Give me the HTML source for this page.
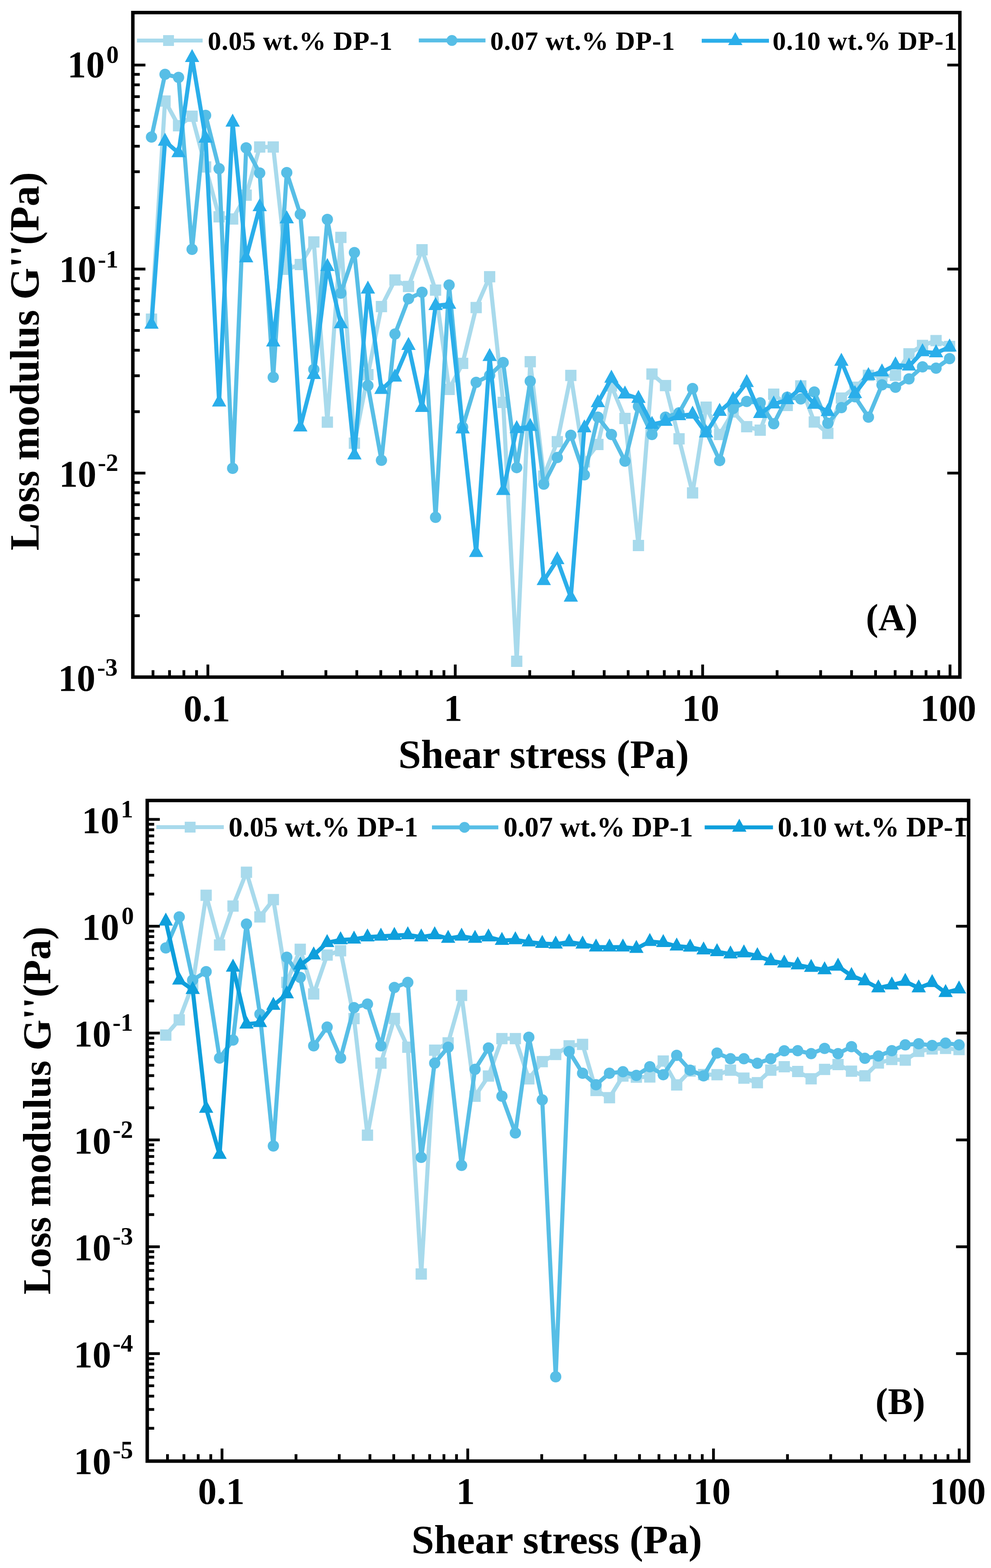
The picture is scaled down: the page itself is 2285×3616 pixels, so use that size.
<!DOCTYPE html><html><head><meta charset="utf-8"><style>html,body{margin:0;padding:0;background:#fff}svg{display:block}</style></head><body><svg width="2285" height="3616" viewBox="0 0 2285 3616" font-family="Liberation Serif, Times New Roman, serif" font-weight="bold">
<rect width="2285" height="3616" fill="#fff"/>
<defs><clipPath id="cA"><rect x="310" y="33" width="1899" height="1524"/></clipPath><clipPath id="cB"><rect x="343.5" y="1850" width="1886" height="1515"/></clipPath></defs>
<g clip-path="url(#cA)"><polyline points="349.3,736.0 380.5,233.0 411.7,290.0 442.9,268.0 474.1,385.0 505.2,500.0 536.4,505.0 567.6,450.0 598.8,339.0 630.0,339.0 661.2,621.0 692.4,610.0 723.6,558.0 754.8,973.5 786.0,547.5 817.2,1022.0 848.3,864.0 879.5,707.0 910.7,645.7 941.9,660.6 973.1,576.0 1004.3,669.0 1035.5,898.0 1066.7,838.0 1097.9,709.3 1129.0,638.2 1160.2,928.0 1191.4,1525.0 1222.6,834.2 1253.8,1098.0 1285.0,1018.6 1316.2,865.8 1347.4,1065.0 1378.6,1025.0 1409.8,890.0 1441.0,965.0 1472.1,1258.0 1503.3,862.6 1534.5,889.2 1565.7,1012.0 1596.9,1136.7 1628.1,939.0 1659.3,1002.0 1690.5,950.0 1721.7,984.0 1752.8,992.0 1784.0,909.0 1815.2,935.0 1846.4,890.0 1877.6,973.2 1908.8,999.4 1940.0,918.0 1971.2,893.0 2002.4,865.6 2033.6,868.0 2064.8,865.6 2095.9,816.0 2127.1,796.6 2158.3,785.5 2189.5,799.0" fill="none" stroke="#A8DAEC" stroke-width="9.5" stroke-linejoin="miter" stroke-miterlimit="3"/>
<rect x="336.3" y="723.0" width="26.0" height="26.0" fill="#A8DAEC"/>
<rect x="367.5" y="220.0" width="26.0" height="26.0" fill="#A8DAEC"/>
<rect x="398.7" y="277.0" width="26.0" height="26.0" fill="#A8DAEC"/>
<rect x="429.9" y="255.0" width="26.0" height="26.0" fill="#A8DAEC"/>
<rect x="461.1" y="372.0" width="26.0" height="26.0" fill="#A8DAEC"/>
<rect x="492.2" y="487.0" width="26.0" height="26.0" fill="#A8DAEC"/>
<rect x="523.4" y="492.0" width="26.0" height="26.0" fill="#A8DAEC"/>
<rect x="554.6" y="437.0" width="26.0" height="26.0" fill="#A8DAEC"/>
<rect x="585.8" y="326.0" width="26.0" height="26.0" fill="#A8DAEC"/>
<rect x="617.0" y="326.0" width="26.0" height="26.0" fill="#A8DAEC"/>
<rect x="648.2" y="608.0" width="26.0" height="26.0" fill="#A8DAEC"/>
<rect x="679.4" y="597.0" width="26.0" height="26.0" fill="#A8DAEC"/>
<rect x="710.6" y="545.0" width="26.0" height="26.0" fill="#A8DAEC"/>
<rect x="741.8" y="960.5" width="26.0" height="26.0" fill="#A8DAEC"/>
<rect x="773.0" y="534.5" width="26.0" height="26.0" fill="#A8DAEC"/>
<rect x="804.2" y="1009.0" width="26.0" height="26.0" fill="#A8DAEC"/>
<rect x="835.3" y="851.0" width="26.0" height="26.0" fill="#A8DAEC"/>
<rect x="866.5" y="694.0" width="26.0" height="26.0" fill="#A8DAEC"/>
<rect x="897.7" y="632.7" width="26.0" height="26.0" fill="#A8DAEC"/>
<rect x="928.9" y="647.6" width="26.0" height="26.0" fill="#A8DAEC"/>
<rect x="960.1" y="563.0" width="26.0" height="26.0" fill="#A8DAEC"/>
<rect x="991.3" y="656.0" width="26.0" height="26.0" fill="#A8DAEC"/>
<rect x="1022.5" y="885.0" width="26.0" height="26.0" fill="#A8DAEC"/>
<rect x="1053.7" y="825.0" width="26.0" height="26.0" fill="#A8DAEC"/>
<rect x="1084.9" y="696.3" width="26.0" height="26.0" fill="#A8DAEC"/>
<rect x="1116.0" y="625.2" width="26.0" height="26.0" fill="#A8DAEC"/>
<rect x="1147.2" y="915.0" width="26.0" height="26.0" fill="#A8DAEC"/>
<rect x="1178.4" y="1512.0" width="26.0" height="26.0" fill="#A8DAEC"/>
<rect x="1209.6" y="821.2" width="26.0" height="26.0" fill="#A8DAEC"/>
<rect x="1240.8" y="1085.0" width="26.0" height="26.0" fill="#A8DAEC"/>
<rect x="1272.0" y="1005.6" width="26.0" height="26.0" fill="#A8DAEC"/>
<rect x="1303.2" y="852.8" width="26.0" height="26.0" fill="#A8DAEC"/>
<rect x="1334.4" y="1052.0" width="26.0" height="26.0" fill="#A8DAEC"/>
<rect x="1365.6" y="1012.0" width="26.0" height="26.0" fill="#A8DAEC"/>
<rect x="1396.8" y="877.0" width="26.0" height="26.0" fill="#A8DAEC"/>
<rect x="1428.0" y="952.0" width="26.0" height="26.0" fill="#A8DAEC"/>
<rect x="1459.1" y="1245.0" width="26.0" height="26.0" fill="#A8DAEC"/>
<rect x="1490.3" y="849.6" width="26.0" height="26.0" fill="#A8DAEC"/>
<rect x="1521.5" y="876.2" width="26.0" height="26.0" fill="#A8DAEC"/>
<rect x="1552.7" y="999.0" width="26.0" height="26.0" fill="#A8DAEC"/>
<rect x="1583.9" y="1123.7" width="26.0" height="26.0" fill="#A8DAEC"/>
<rect x="1615.1" y="926.0" width="26.0" height="26.0" fill="#A8DAEC"/>
<rect x="1646.3" y="989.0" width="26.0" height="26.0" fill="#A8DAEC"/>
<rect x="1677.5" y="937.0" width="26.0" height="26.0" fill="#A8DAEC"/>
<rect x="1708.7" y="971.0" width="26.0" height="26.0" fill="#A8DAEC"/>
<rect x="1739.8" y="979.0" width="26.0" height="26.0" fill="#A8DAEC"/>
<rect x="1771.0" y="896.0" width="26.0" height="26.0" fill="#A8DAEC"/>
<rect x="1802.2" y="922.0" width="26.0" height="26.0" fill="#A8DAEC"/>
<rect x="1833.4" y="877.0" width="26.0" height="26.0" fill="#A8DAEC"/>
<rect x="1864.6" y="960.2" width="26.0" height="26.0" fill="#A8DAEC"/>
<rect x="1895.8" y="986.4" width="26.0" height="26.0" fill="#A8DAEC"/>
<rect x="1927.0" y="905.0" width="26.0" height="26.0" fill="#A8DAEC"/>
<rect x="1958.2" y="880.0" width="26.0" height="26.0" fill="#A8DAEC"/>
<rect x="1989.4" y="852.6" width="26.0" height="26.0" fill="#A8DAEC"/>
<rect x="2020.6" y="855.0" width="26.0" height="26.0" fill="#A8DAEC"/>
<rect x="2051.8" y="852.6" width="26.0" height="26.0" fill="#A8DAEC"/>
<rect x="2082.9" y="803.0" width="26.0" height="26.0" fill="#A8DAEC"/>
<rect x="2114.1" y="783.6" width="26.0" height="26.0" fill="#A8DAEC"/>
<rect x="2145.3" y="772.5" width="26.0" height="26.0" fill="#A8DAEC"/>
<rect x="2176.5" y="786.0" width="26.0" height="26.0" fill="#A8DAEC"/>
</g>
<g clip-path="url(#cA)"><polyline points="349.3,316.0 380.5,171.4 411.7,178.5 442.9,575.0 474.1,266.0 505.2,389.0 536.4,1080.0 567.6,341.0 598.8,399.0 630.0,870.0 661.2,398.0 692.4,494.0 723.6,852.0 754.8,506.0 786.0,676.0 817.2,582.5 848.3,889.0 879.5,1061.5 910.7,770.3 941.9,688.9 973.1,674.0 1004.3,1193.0 1035.5,657.3 1066.7,985.0 1097.9,881.8 1129.0,865.8 1160.2,835.9 1191.4,1078.4 1222.6,879.0 1253.8,1116.6 1285.0,1055.1 1316.2,1003.7 1347.4,1095.0 1378.6,962.0 1409.8,1002.0 1441.0,1063.5 1472.1,937.0 1503.3,1002.0 1534.5,962.0 1565.7,952.0 1596.9,896.0 1628.1,995.0 1659.3,1062.0 1690.5,942.0 1721.7,925.7 1752.8,929.0 1784.0,977.2 1815.2,916.0 1846.4,920.0 1877.6,904.0 1908.8,976.0 1940.0,940.0 1971.2,915.0 2002.4,962.0 2033.6,887.6 2064.8,893.0 2095.9,873.8 2127.1,846.0 2158.3,849.0 2189.5,827.0" fill="none" stroke="#57BEE6" stroke-width="9.5" stroke-linejoin="miter" stroke-miterlimit="3"/>
<circle cx="349.3" cy="316.0" r="13.0" fill="#57BEE6"/>
<circle cx="380.5" cy="171.4" r="13.0" fill="#57BEE6"/>
<circle cx="411.7" cy="178.5" r="13.0" fill="#57BEE6"/>
<circle cx="442.9" cy="575.0" r="13.0" fill="#57BEE6"/>
<circle cx="474.1" cy="266.0" r="13.0" fill="#57BEE6"/>
<circle cx="505.2" cy="389.0" r="13.0" fill="#57BEE6"/>
<circle cx="536.4" cy="1080.0" r="13.0" fill="#57BEE6"/>
<circle cx="567.6" cy="341.0" r="13.0" fill="#57BEE6"/>
<circle cx="598.8" cy="399.0" r="13.0" fill="#57BEE6"/>
<circle cx="630.0" cy="870.0" r="13.0" fill="#57BEE6"/>
<circle cx="661.2" cy="398.0" r="13.0" fill="#57BEE6"/>
<circle cx="692.4" cy="494.0" r="13.0" fill="#57BEE6"/>
<circle cx="723.6" cy="852.0" r="13.0" fill="#57BEE6"/>
<circle cx="754.8" cy="506.0" r="13.0" fill="#57BEE6"/>
<circle cx="786.0" cy="676.0" r="13.0" fill="#57BEE6"/>
<circle cx="817.2" cy="582.5" r="13.0" fill="#57BEE6"/>
<circle cx="848.3" cy="889.0" r="13.0" fill="#57BEE6"/>
<circle cx="879.5" cy="1061.5" r="13.0" fill="#57BEE6"/>
<circle cx="910.7" cy="770.3" r="13.0" fill="#57BEE6"/>
<circle cx="941.9" cy="688.9" r="13.0" fill="#57BEE6"/>
<circle cx="973.1" cy="674.0" r="13.0" fill="#57BEE6"/>
<circle cx="1004.3" cy="1193.0" r="13.0" fill="#57BEE6"/>
<circle cx="1035.5" cy="657.3" r="13.0" fill="#57BEE6"/>
<circle cx="1066.7" cy="985.0" r="13.0" fill="#57BEE6"/>
<circle cx="1097.9" cy="881.8" r="13.0" fill="#57BEE6"/>
<circle cx="1129.0" cy="865.8" r="13.0" fill="#57BEE6"/>
<circle cx="1160.2" cy="835.9" r="13.0" fill="#57BEE6"/>
<circle cx="1191.4" cy="1078.4" r="13.0" fill="#57BEE6"/>
<circle cx="1222.6" cy="879.0" r="13.0" fill="#57BEE6"/>
<circle cx="1253.8" cy="1116.6" r="13.0" fill="#57BEE6"/>
<circle cx="1285.0" cy="1055.1" r="13.0" fill="#57BEE6"/>
<circle cx="1316.2" cy="1003.7" r="13.0" fill="#57BEE6"/>
<circle cx="1347.4" cy="1095.0" r="13.0" fill="#57BEE6"/>
<circle cx="1378.6" cy="962.0" r="13.0" fill="#57BEE6"/>
<circle cx="1409.8" cy="1002.0" r="13.0" fill="#57BEE6"/>
<circle cx="1441.0" cy="1063.5" r="13.0" fill="#57BEE6"/>
<circle cx="1472.1" cy="937.0" r="13.0" fill="#57BEE6"/>
<circle cx="1503.3" cy="1002.0" r="13.0" fill="#57BEE6"/>
<circle cx="1534.5" cy="962.0" r="13.0" fill="#57BEE6"/>
<circle cx="1565.7" cy="952.0" r="13.0" fill="#57BEE6"/>
<circle cx="1596.9" cy="896.0" r="13.0" fill="#57BEE6"/>
<circle cx="1628.1" cy="995.0" r="13.0" fill="#57BEE6"/>
<circle cx="1659.3" cy="1062.0" r="13.0" fill="#57BEE6"/>
<circle cx="1690.5" cy="942.0" r="13.0" fill="#57BEE6"/>
<circle cx="1721.7" cy="925.7" r="13.0" fill="#57BEE6"/>
<circle cx="1752.8" cy="929.0" r="13.0" fill="#57BEE6"/>
<circle cx="1784.0" cy="977.2" r="13.0" fill="#57BEE6"/>
<circle cx="1815.2" cy="916.0" r="13.0" fill="#57BEE6"/>
<circle cx="1846.4" cy="920.0" r="13.0" fill="#57BEE6"/>
<circle cx="1877.6" cy="904.0" r="13.0" fill="#57BEE6"/>
<circle cx="1908.8" cy="976.0" r="13.0" fill="#57BEE6"/>
<circle cx="1940.0" cy="940.0" r="13.0" fill="#57BEE6"/>
<circle cx="1971.2" cy="915.0" r="13.0" fill="#57BEE6"/>
<circle cx="2002.4" cy="962.0" r="13.0" fill="#57BEE6"/>
<circle cx="2033.6" cy="887.6" r="13.0" fill="#57BEE6"/>
<circle cx="2064.8" cy="893.0" r="13.0" fill="#57BEE6"/>
<circle cx="2095.9" cy="873.8" r="13.0" fill="#57BEE6"/>
<circle cx="2127.1" cy="846.0" r="13.0" fill="#57BEE6"/>
<circle cx="2158.3" cy="849.0" r="13.0" fill="#57BEE6"/>
<circle cx="2189.5" cy="827.0" r="13.0" fill="#57BEE6"/>
</g>
<g clip-path="url(#cA)"><polyline points="349.3,748.0 380.5,326.0 411.7,352.5 442.9,133.0 474.1,319.0 505.2,927.5 536.4,282.0 567.6,595.0 598.8,477.0 630.0,789.0 661.2,505.0 692.4,985.0 723.6,864.0 754.8,615.0 786.0,747.0 817.2,1049.5 848.3,667.0 879.5,898.5 910.7,870.0 941.9,797.0 973.1,940.0 1004.3,705.0 1035.5,702.0 1066.7,989.5 1097.9,1274.4 1129.0,822.6 1160.2,1131.5 1191.4,988.7 1222.6,983.7 1253.8,1339.2 1285.0,1291.0 1316.2,1377.4 1347.4,987.0 1378.6,929.0 1409.8,872.4 1441.0,909.0 1472.1,919.0 1503.3,979.0 1534.5,972.0 1565.7,959.0 1596.9,955.6 1628.1,998.8 1659.3,949.0 1690.5,922.0 1721.7,882.5 1752.8,954.0 1784.0,932.0 1815.2,922.0 1846.4,895.0 1877.6,932.8 1908.8,949.4 1940.0,833.5 1971.2,908.0 2002.4,866.6 2033.6,858.0 2064.8,841.8 2095.9,844.5 2127.1,811.4 2158.3,814.0 2189.5,800.4" fill="none" stroke="#2AAEEA" stroke-width="9.5" stroke-linejoin="miter" stroke-miterlimit="3"/>
<polygon points="349.3,728.0 365.8,758.0 332.8,758.0" fill="#2AAEEA"/>
<polygon points="380.5,306.0 397.0,336.0 364.0,336.0" fill="#2AAEEA"/>
<polygon points="411.7,332.5 428.2,362.5 395.2,362.5" fill="#2AAEEA"/>
<polygon points="442.9,113.0 459.4,143.0 426.4,143.0" fill="#2AAEEA"/>
<polygon points="474.1,299.0 490.6,329.0 457.6,329.0" fill="#2AAEEA"/>
<polygon points="505.2,907.5 521.8,937.5 488.8,937.5" fill="#2AAEEA"/>
<polygon points="536.4,262.0 552.9,292.0 519.9,292.0" fill="#2AAEEA"/>
<polygon points="567.6,575.0 584.1,605.0 551.1,605.0" fill="#2AAEEA"/>
<polygon points="598.8,457.0 615.3,487.0 582.3,487.0" fill="#2AAEEA"/>
<polygon points="630.0,769.0 646.5,799.0 613.5,799.0" fill="#2AAEEA"/>
<polygon points="661.2,485.0 677.7,515.0 644.7,515.0" fill="#2AAEEA"/>
<polygon points="692.4,965.0 708.9,995.0 675.9,995.0" fill="#2AAEEA"/>
<polygon points="723.6,844.0 740.1,874.0 707.1,874.0" fill="#2AAEEA"/>
<polygon points="754.8,595.0 771.3,625.0 738.3,625.0" fill="#2AAEEA"/>
<polygon points="786.0,727.0 802.5,757.0 769.5,757.0" fill="#2AAEEA"/>
<polygon points="817.2,1029.5 833.7,1059.5 800.7,1059.5" fill="#2AAEEA"/>
<polygon points="848.3,647.0 864.8,677.0 831.8,677.0" fill="#2AAEEA"/>
<polygon points="879.5,878.5 896.0,908.5 863.0,908.5" fill="#2AAEEA"/>
<polygon points="910.7,850.0 927.2,880.0 894.2,880.0" fill="#2AAEEA"/>
<polygon points="941.9,777.0 958.4,807.0 925.4,807.0" fill="#2AAEEA"/>
<polygon points="973.1,920.0 989.6,950.0 956.6,950.0" fill="#2AAEEA"/>
<polygon points="1004.3,685.0 1020.8,715.0 987.8,715.0" fill="#2AAEEA"/>
<polygon points="1035.5,682.0 1052.0,712.0 1019.0,712.0" fill="#2AAEEA"/>
<polygon points="1066.7,969.5 1083.2,999.5 1050.2,999.5" fill="#2AAEEA"/>
<polygon points="1097.9,1254.4 1114.4,1284.4 1081.4,1284.4" fill="#2AAEEA"/>
<polygon points="1129.0,802.6 1145.5,832.6 1112.5,832.6" fill="#2AAEEA"/>
<polygon points="1160.2,1111.5 1176.7,1141.5 1143.7,1141.5" fill="#2AAEEA"/>
<polygon points="1191.4,968.7 1207.9,998.7 1174.9,998.7" fill="#2AAEEA"/>
<polygon points="1222.6,963.7 1239.1,993.7 1206.1,993.7" fill="#2AAEEA"/>
<polygon points="1253.8,1319.2 1270.3,1349.2 1237.3,1349.2" fill="#2AAEEA"/>
<polygon points="1285.0,1271.0 1301.5,1301.0 1268.5,1301.0" fill="#2AAEEA"/>
<polygon points="1316.2,1357.4 1332.7,1387.4 1299.7,1387.4" fill="#2AAEEA"/>
<polygon points="1347.4,967.0 1363.9,997.0 1330.9,997.0" fill="#2AAEEA"/>
<polygon points="1378.6,909.0 1395.1,939.0 1362.1,939.0" fill="#2AAEEA"/>
<polygon points="1409.8,852.4 1426.3,882.4 1393.3,882.4" fill="#2AAEEA"/>
<polygon points="1441.0,889.0 1457.5,919.0 1424.5,919.0" fill="#2AAEEA"/>
<polygon points="1472.1,899.0 1488.6,929.0 1455.6,929.0" fill="#2AAEEA"/>
<polygon points="1503.3,959.0 1519.8,989.0 1486.8,989.0" fill="#2AAEEA"/>
<polygon points="1534.5,952.0 1551.0,982.0 1518.0,982.0" fill="#2AAEEA"/>
<polygon points="1565.7,939.0 1582.2,969.0 1549.2,969.0" fill="#2AAEEA"/>
<polygon points="1596.9,935.6 1613.4,965.6 1580.4,965.6" fill="#2AAEEA"/>
<polygon points="1628.1,978.8 1644.6,1008.8 1611.6,1008.8" fill="#2AAEEA"/>
<polygon points="1659.3,929.0 1675.8,959.0 1642.8,959.0" fill="#2AAEEA"/>
<polygon points="1690.5,902.0 1707.0,932.0 1674.0,932.0" fill="#2AAEEA"/>
<polygon points="1721.7,862.5 1738.2,892.5 1705.2,892.5" fill="#2AAEEA"/>
<polygon points="1752.8,934.0 1769.3,964.0 1736.3,964.0" fill="#2AAEEA"/>
<polygon points="1784.0,912.0 1800.5,942.0 1767.5,942.0" fill="#2AAEEA"/>
<polygon points="1815.2,902.0 1831.7,932.0 1798.7,932.0" fill="#2AAEEA"/>
<polygon points="1846.4,875.0 1862.9,905.0 1829.9,905.0" fill="#2AAEEA"/>
<polygon points="1877.6,912.8 1894.1,942.8 1861.1,942.8" fill="#2AAEEA"/>
<polygon points="1908.8,929.4 1925.3,959.4 1892.3,959.4" fill="#2AAEEA"/>
<polygon points="1940.0,813.5 1956.5,843.5 1923.5,843.5" fill="#2AAEEA"/>
<polygon points="1971.2,888.0 1987.7,918.0 1954.7,918.0" fill="#2AAEEA"/>
<polygon points="2002.4,846.6 2018.9,876.6 1985.9,876.6" fill="#2AAEEA"/>
<polygon points="2033.6,838.0 2050.1,868.0 2017.1,868.0" fill="#2AAEEA"/>
<polygon points="2064.8,821.8 2081.2,851.8 2048.2,851.8" fill="#2AAEEA"/>
<polygon points="2095.9,824.5 2112.4,854.5 2079.4,854.5" fill="#2AAEEA"/>
<polygon points="2127.1,791.4 2143.6,821.4 2110.6,821.4" fill="#2AAEEA"/>
<polygon points="2158.3,794.0 2174.8,824.0 2141.8,824.0" fill="#2AAEEA"/>
<polygon points="2189.5,780.4 2206.0,810.4 2173.0,810.4" fill="#2AAEEA"/>
</g>
<g clip-path="url(#cB)"><polyline points="382.3,2387.0 413.3,2352.0 444.3,2270.0 475.3,2064.6 506.3,2179.2 537.3,2089.5 568.3,2011.5 599.3,2114.5 630.3,2074.6 661.3,2265.6 692.3,2189.2 723.3,2292.2 754.3,2202.5 785.3,2192.5 816.3,2349.0 847.3,2617.8 878.3,2451.7 909.3,2348.7 940.3,2415.0 971.3,2938.0 1002.3,2421.8 1033.3,2405.0 1064.3,2295.5 1095.3,2528.0 1126.3,2481.5 1157.3,2395.2 1188.3,2395.2 1219.3,2488.0 1250.3,2448.3 1281.3,2431.7 1312.3,2411.8 1343.3,2408.5 1374.3,2514.8 1405.3,2531.4 1436.3,2481.5 1467.3,2484.0 1498.3,2483.6 1529.3,2446.9 1560.3,2502.0 1591.3,2470.0 1622.3,2478.0 1653.3,2478.4 1684.3,2467.9 1715.3,2486.3 1746.3,2496.8 1777.3,2467.9 1808.3,2460.0 1839.3,2471.0 1870.3,2487.8 1901.3,2466.2 1932.3,2455.0 1963.3,2470.3 1994.3,2481.0 2025.3,2451.4 2056.3,2443.3 2087.3,2444.7 2118.3,2424.5 2149.3,2419.0 2180.3,2417.7 2211.3,2420.4" fill="none" stroke="#A8DAEC" stroke-width="9.5" stroke-linejoin="miter" stroke-miterlimit="3"/>
<rect x="369.3" y="2374.0" width="26.0" height="26.0" fill="#A8DAEC"/>
<rect x="400.3" y="2339.0" width="26.0" height="26.0" fill="#A8DAEC"/>
<rect x="431.3" y="2257.0" width="26.0" height="26.0" fill="#A8DAEC"/>
<rect x="462.3" y="2051.6" width="26.0" height="26.0" fill="#A8DAEC"/>
<rect x="493.3" y="2166.2" width="26.0" height="26.0" fill="#A8DAEC"/>
<rect x="524.3" y="2076.5" width="26.0" height="26.0" fill="#A8DAEC"/>
<rect x="555.3" y="1998.5" width="26.0" height="26.0" fill="#A8DAEC"/>
<rect x="586.3" y="2101.5" width="26.0" height="26.0" fill="#A8DAEC"/>
<rect x="617.3" y="2061.6" width="26.0" height="26.0" fill="#A8DAEC"/>
<rect x="648.3" y="2252.6" width="26.0" height="26.0" fill="#A8DAEC"/>
<rect x="679.3" y="2176.2" width="26.0" height="26.0" fill="#A8DAEC"/>
<rect x="710.3" y="2279.2" width="26.0" height="26.0" fill="#A8DAEC"/>
<rect x="741.3" y="2189.5" width="26.0" height="26.0" fill="#A8DAEC"/>
<rect x="772.3" y="2179.5" width="26.0" height="26.0" fill="#A8DAEC"/>
<rect x="803.3" y="2336.0" width="26.0" height="26.0" fill="#A8DAEC"/>
<rect x="834.3" y="2604.8" width="26.0" height="26.0" fill="#A8DAEC"/>
<rect x="865.3" y="2438.7" width="26.0" height="26.0" fill="#A8DAEC"/>
<rect x="896.3" y="2335.7" width="26.0" height="26.0" fill="#A8DAEC"/>
<rect x="927.3" y="2402.0" width="26.0" height="26.0" fill="#A8DAEC"/>
<rect x="958.3" y="2925.0" width="26.0" height="26.0" fill="#A8DAEC"/>
<rect x="989.3" y="2408.8" width="26.0" height="26.0" fill="#A8DAEC"/>
<rect x="1020.3" y="2392.0" width="26.0" height="26.0" fill="#A8DAEC"/>
<rect x="1051.3" y="2282.5" width="26.0" height="26.0" fill="#A8DAEC"/>
<rect x="1082.3" y="2515.0" width="26.0" height="26.0" fill="#A8DAEC"/>
<rect x="1113.3" y="2468.5" width="26.0" height="26.0" fill="#A8DAEC"/>
<rect x="1144.3" y="2382.2" width="26.0" height="26.0" fill="#A8DAEC"/>
<rect x="1175.3" y="2382.2" width="26.0" height="26.0" fill="#A8DAEC"/>
<rect x="1206.3" y="2475.0" width="26.0" height="26.0" fill="#A8DAEC"/>
<rect x="1237.3" y="2435.3" width="26.0" height="26.0" fill="#A8DAEC"/>
<rect x="1268.3" y="2418.7" width="26.0" height="26.0" fill="#A8DAEC"/>
<rect x="1299.3" y="2398.8" width="26.0" height="26.0" fill="#A8DAEC"/>
<rect x="1330.3" y="2395.5" width="26.0" height="26.0" fill="#A8DAEC"/>
<rect x="1361.3" y="2501.8" width="26.0" height="26.0" fill="#A8DAEC"/>
<rect x="1392.3" y="2518.4" width="26.0" height="26.0" fill="#A8DAEC"/>
<rect x="1423.3" y="2468.5" width="26.0" height="26.0" fill="#A8DAEC"/>
<rect x="1454.3" y="2471.0" width="26.0" height="26.0" fill="#A8DAEC"/>
<rect x="1485.3" y="2470.6" width="26.0" height="26.0" fill="#A8DAEC"/>
<rect x="1516.3" y="2433.9" width="26.0" height="26.0" fill="#A8DAEC"/>
<rect x="1547.3" y="2489.0" width="26.0" height="26.0" fill="#A8DAEC"/>
<rect x="1578.3" y="2457.0" width="26.0" height="26.0" fill="#A8DAEC"/>
<rect x="1609.3" y="2465.0" width="26.0" height="26.0" fill="#A8DAEC"/>
<rect x="1640.3" y="2465.4" width="26.0" height="26.0" fill="#A8DAEC"/>
<rect x="1671.3" y="2454.9" width="26.0" height="26.0" fill="#A8DAEC"/>
<rect x="1702.3" y="2473.3" width="26.0" height="26.0" fill="#A8DAEC"/>
<rect x="1733.3" y="2483.8" width="26.0" height="26.0" fill="#A8DAEC"/>
<rect x="1764.3" y="2454.9" width="26.0" height="26.0" fill="#A8DAEC"/>
<rect x="1795.3" y="2447.0" width="26.0" height="26.0" fill="#A8DAEC"/>
<rect x="1826.3" y="2458.0" width="26.0" height="26.0" fill="#A8DAEC"/>
<rect x="1857.3" y="2474.8" width="26.0" height="26.0" fill="#A8DAEC"/>
<rect x="1888.3" y="2453.2" width="26.0" height="26.0" fill="#A8DAEC"/>
<rect x="1919.3" y="2442.0" width="26.0" height="26.0" fill="#A8DAEC"/>
<rect x="1950.3" y="2457.3" width="26.0" height="26.0" fill="#A8DAEC"/>
<rect x="1981.3" y="2468.0" width="26.0" height="26.0" fill="#A8DAEC"/>
<rect x="2012.3" y="2438.4" width="26.0" height="26.0" fill="#A8DAEC"/>
<rect x="2043.3" y="2430.3" width="26.0" height="26.0" fill="#A8DAEC"/>
<rect x="2074.3" y="2431.7" width="26.0" height="26.0" fill="#A8DAEC"/>
<rect x="2105.3" y="2411.5" width="26.0" height="26.0" fill="#A8DAEC"/>
<rect x="2136.3" y="2406.0" width="26.0" height="26.0" fill="#A8DAEC"/>
<rect x="2167.3" y="2404.7" width="26.0" height="26.0" fill="#A8DAEC"/>
<rect x="2198.3" y="2407.4" width="26.0" height="26.0" fill="#A8DAEC"/>
</g>
<g clip-path="url(#cB)"><polyline points="382.3,2186.0 413.3,2114.5 444.3,2260.0 475.3,2240.7 506.3,2440.0 537.3,2398.5 568.3,2131.0 599.3,2338.7 630.3,2642.7 661.3,2207.5 692.3,2254.0 723.3,2411.8 754.3,2368.6 785.3,2440.0 816.3,2323.8 847.3,2315.4 878.3,2411.8 909.3,2277.2 940.3,2265.6 971.3,2669.0 1002.3,2451.7 1033.3,2415.0 1064.3,2687.6 1095.3,2466.0 1126.3,2416.8 1157.3,2528.0 1188.3,2612.8 1219.3,2391.9 1250.3,2536.4 1281.3,3175.0 1312.3,2425.0 1343.3,2475.0 1374.3,2501.5 1405.3,2475.0 1436.3,2471.6 1467.3,2480.0 1498.3,2460.0 1529.3,2478.4 1560.3,2433.7 1591.3,2467.9 1622.3,2481.0 1653.3,2428.5 1684.3,2441.6 1715.3,2441.6 1746.3,2452.1 1777.3,2441.6 1808.3,2423.2 1839.3,2423.1 1870.3,2429.8 1901.3,2417.7 1932.3,2429.8 1963.3,2413.7 1994.3,2440.6 2025.3,2435.2 2056.3,2423.0 2087.3,2409.6 2118.3,2407.0 2149.3,2411.0 2180.3,2405.6 2211.3,2409.6" fill="none" stroke="#57BEE6" stroke-width="9.5" stroke-linejoin="miter" stroke-miterlimit="3"/>
<circle cx="382.3" cy="2186.0" r="13.0" fill="#57BEE6"/>
<circle cx="413.3" cy="2114.5" r="13.0" fill="#57BEE6"/>
<circle cx="444.3" cy="2260.0" r="13.0" fill="#57BEE6"/>
<circle cx="475.3" cy="2240.7" r="13.0" fill="#57BEE6"/>
<circle cx="506.3" cy="2440.0" r="13.0" fill="#57BEE6"/>
<circle cx="537.3" cy="2398.5" r="13.0" fill="#57BEE6"/>
<circle cx="568.3" cy="2131.0" r="13.0" fill="#57BEE6"/>
<circle cx="599.3" cy="2338.7" r="13.0" fill="#57BEE6"/>
<circle cx="630.3" cy="2642.7" r="13.0" fill="#57BEE6"/>
<circle cx="661.3" cy="2207.5" r="13.0" fill="#57BEE6"/>
<circle cx="692.3" cy="2254.0" r="13.0" fill="#57BEE6"/>
<circle cx="723.3" cy="2411.8" r="13.0" fill="#57BEE6"/>
<circle cx="754.3" cy="2368.6" r="13.0" fill="#57BEE6"/>
<circle cx="785.3" cy="2440.0" r="13.0" fill="#57BEE6"/>
<circle cx="816.3" cy="2323.8" r="13.0" fill="#57BEE6"/>
<circle cx="847.3" cy="2315.4" r="13.0" fill="#57BEE6"/>
<circle cx="878.3" cy="2411.8" r="13.0" fill="#57BEE6"/>
<circle cx="909.3" cy="2277.2" r="13.0" fill="#57BEE6"/>
<circle cx="940.3" cy="2265.6" r="13.0" fill="#57BEE6"/>
<circle cx="971.3" cy="2669.0" r="13.0" fill="#57BEE6"/>
<circle cx="1002.3" cy="2451.7" r="13.0" fill="#57BEE6"/>
<circle cx="1033.3" cy="2415.0" r="13.0" fill="#57BEE6"/>
<circle cx="1064.3" cy="2687.6" r="13.0" fill="#57BEE6"/>
<circle cx="1095.3" cy="2466.0" r="13.0" fill="#57BEE6"/>
<circle cx="1126.3" cy="2416.8" r="13.0" fill="#57BEE6"/>
<circle cx="1157.3" cy="2528.0" r="13.0" fill="#57BEE6"/>
<circle cx="1188.3" cy="2612.8" r="13.0" fill="#57BEE6"/>
<circle cx="1219.3" cy="2391.9" r="13.0" fill="#57BEE6"/>
<circle cx="1250.3" cy="2536.4" r="13.0" fill="#57BEE6"/>
<circle cx="1281.3" cy="3175.0" r="13.0" fill="#57BEE6"/>
<circle cx="1312.3" cy="2425.0" r="13.0" fill="#57BEE6"/>
<circle cx="1343.3" cy="2475.0" r="13.0" fill="#57BEE6"/>
<circle cx="1374.3" cy="2501.5" r="13.0" fill="#57BEE6"/>
<circle cx="1405.3" cy="2475.0" r="13.0" fill="#57BEE6"/>
<circle cx="1436.3" cy="2471.6" r="13.0" fill="#57BEE6"/>
<circle cx="1467.3" cy="2480.0" r="13.0" fill="#57BEE6"/>
<circle cx="1498.3" cy="2460.0" r="13.0" fill="#57BEE6"/>
<circle cx="1529.3" cy="2478.4" r="13.0" fill="#57BEE6"/>
<circle cx="1560.3" cy="2433.7" r="13.0" fill="#57BEE6"/>
<circle cx="1591.3" cy="2467.9" r="13.0" fill="#57BEE6"/>
<circle cx="1622.3" cy="2481.0" r="13.0" fill="#57BEE6"/>
<circle cx="1653.3" cy="2428.5" r="13.0" fill="#57BEE6"/>
<circle cx="1684.3" cy="2441.6" r="13.0" fill="#57BEE6"/>
<circle cx="1715.3" cy="2441.6" r="13.0" fill="#57BEE6"/>
<circle cx="1746.3" cy="2452.1" r="13.0" fill="#57BEE6"/>
<circle cx="1777.3" cy="2441.6" r="13.0" fill="#57BEE6"/>
<circle cx="1808.3" cy="2423.2" r="13.0" fill="#57BEE6"/>
<circle cx="1839.3" cy="2423.1" r="13.0" fill="#57BEE6"/>
<circle cx="1870.3" cy="2429.8" r="13.0" fill="#57BEE6"/>
<circle cx="1901.3" cy="2417.7" r="13.0" fill="#57BEE6"/>
<circle cx="1932.3" cy="2429.8" r="13.0" fill="#57BEE6"/>
<circle cx="1963.3" cy="2413.7" r="13.0" fill="#57BEE6"/>
<circle cx="1994.3" cy="2440.6" r="13.0" fill="#57BEE6"/>
<circle cx="2025.3" cy="2435.2" r="13.0" fill="#57BEE6"/>
<circle cx="2056.3" cy="2423.0" r="13.0" fill="#57BEE6"/>
<circle cx="2087.3" cy="2409.6" r="13.0" fill="#57BEE6"/>
<circle cx="2118.3" cy="2407.0" r="13.0" fill="#57BEE6"/>
<circle cx="2149.3" cy="2411.0" r="13.0" fill="#57BEE6"/>
<circle cx="2180.3" cy="2405.6" r="13.0" fill="#57BEE6"/>
<circle cx="2211.3" cy="2409.6" r="13.0" fill="#57BEE6"/>
</g>
<g clip-path="url(#cB)"><polyline points="382.3,2124.4 413.3,2260.6 444.3,2282.2 475.3,2556.3 506.3,2662.6 537.3,2230.7 568.3,2361.9 599.3,2358.6 630.3,2318.7 661.3,2292.2 692.3,2225.7 723.3,2202.5 754.3,2174.0 785.3,2167.6 816.3,2166.0 847.3,2161.0 878.3,2159.3 909.3,2157.6 940.3,2156.0 971.3,2161.0 1002.3,2156.0 1033.3,2164.3 1064.3,2159.3 1095.3,2164.3 1126.3,2161.0 1157.3,2169.0 1188.3,2167.6 1219.3,2172.6 1250.3,2176.0 1281.3,2177.5 1312.3,2172.6 1343.3,2177.5 1374.3,2184.2 1405.3,2184.2 1436.3,2184.2 1467.3,2187.5 1498.3,2171.4 1529.3,2174.0 1560.3,2182.0 1591.3,2184.5 1622.3,2191.0 1653.3,2195.0 1684.3,2200.3 1715.3,2197.7 1746.3,2204.3 1777.3,2216.0 1808.3,2221.3 1839.3,2225.6 1870.3,2231.3 1901.3,2236.7 1932.3,2228.6 1963.3,2250.1 1994.3,2262.3 2025.3,2278.4 2056.3,2271.7 2087.3,2263.6 2118.3,2278.4 2149.3,2266.3 2180.3,2289.2 2211.3,2281.1" fill="none" stroke="#0E9FDC" stroke-width="9.5" stroke-linejoin="miter" stroke-miterlimit="3"/>
<polygon points="382.3,2104.4 398.8,2134.4 365.8,2134.4" fill="#0E9FDC"/>
<polygon points="413.3,2240.6 429.8,2270.6 396.8,2270.6" fill="#0E9FDC"/>
<polygon points="444.3,2262.2 460.8,2292.2 427.8,2292.2" fill="#0E9FDC"/>
<polygon points="475.3,2536.3 491.8,2566.3 458.8,2566.3" fill="#0E9FDC"/>
<polygon points="506.3,2642.6 522.8,2672.6 489.8,2672.6" fill="#0E9FDC"/>
<polygon points="537.3,2210.7 553.8,2240.7 520.8,2240.7" fill="#0E9FDC"/>
<polygon points="568.3,2341.9 584.8,2371.9 551.8,2371.9" fill="#0E9FDC"/>
<polygon points="599.3,2338.6 615.8,2368.6 582.8,2368.6" fill="#0E9FDC"/>
<polygon points="630.3,2298.7 646.8,2328.7 613.8,2328.7" fill="#0E9FDC"/>
<polygon points="661.3,2272.2 677.8,2302.2 644.8,2302.2" fill="#0E9FDC"/>
<polygon points="692.3,2205.7 708.8,2235.7 675.8,2235.7" fill="#0E9FDC"/>
<polygon points="723.3,2182.5 739.8,2212.5 706.8,2212.5" fill="#0E9FDC"/>
<polygon points="754.3,2154.0 770.8,2184.0 737.8,2184.0" fill="#0E9FDC"/>
<polygon points="785.3,2147.6 801.8,2177.6 768.8,2177.6" fill="#0E9FDC"/>
<polygon points="816.3,2146.0 832.8,2176.0 799.8,2176.0" fill="#0E9FDC"/>
<polygon points="847.3,2141.0 863.8,2171.0 830.8,2171.0" fill="#0E9FDC"/>
<polygon points="878.3,2139.3 894.8,2169.3 861.8,2169.3" fill="#0E9FDC"/>
<polygon points="909.3,2137.6 925.8,2167.6 892.8,2167.6" fill="#0E9FDC"/>
<polygon points="940.3,2136.0 956.8,2166.0 923.8,2166.0" fill="#0E9FDC"/>
<polygon points="971.3,2141.0 987.8,2171.0 954.8,2171.0" fill="#0E9FDC"/>
<polygon points="1002.3,2136.0 1018.8,2166.0 985.8,2166.0" fill="#0E9FDC"/>
<polygon points="1033.3,2144.3 1049.8,2174.3 1016.8,2174.3" fill="#0E9FDC"/>
<polygon points="1064.3,2139.3 1080.8,2169.3 1047.8,2169.3" fill="#0E9FDC"/>
<polygon points="1095.3,2144.3 1111.8,2174.3 1078.8,2174.3" fill="#0E9FDC"/>
<polygon points="1126.3,2141.0 1142.8,2171.0 1109.8,2171.0" fill="#0E9FDC"/>
<polygon points="1157.3,2149.0 1173.8,2179.0 1140.8,2179.0" fill="#0E9FDC"/>
<polygon points="1188.3,2147.6 1204.8,2177.6 1171.8,2177.6" fill="#0E9FDC"/>
<polygon points="1219.3,2152.6 1235.8,2182.6 1202.8,2182.6" fill="#0E9FDC"/>
<polygon points="1250.3,2156.0 1266.8,2186.0 1233.8,2186.0" fill="#0E9FDC"/>
<polygon points="1281.3,2157.5 1297.8,2187.5 1264.8,2187.5" fill="#0E9FDC"/>
<polygon points="1312.3,2152.6 1328.8,2182.6 1295.8,2182.6" fill="#0E9FDC"/>
<polygon points="1343.3,2157.5 1359.8,2187.5 1326.8,2187.5" fill="#0E9FDC"/>
<polygon points="1374.3,2164.2 1390.8,2194.2 1357.8,2194.2" fill="#0E9FDC"/>
<polygon points="1405.3,2164.2 1421.8,2194.2 1388.8,2194.2" fill="#0E9FDC"/>
<polygon points="1436.3,2164.2 1452.8,2194.2 1419.8,2194.2" fill="#0E9FDC"/>
<polygon points="1467.3,2167.5 1483.8,2197.5 1450.8,2197.5" fill="#0E9FDC"/>
<polygon points="1498.3,2151.4 1514.8,2181.4 1481.8,2181.4" fill="#0E9FDC"/>
<polygon points="1529.3,2154.0 1545.8,2184.0 1512.8,2184.0" fill="#0E9FDC"/>
<polygon points="1560.3,2162.0 1576.8,2192.0 1543.8,2192.0" fill="#0E9FDC"/>
<polygon points="1591.3,2164.5 1607.8,2194.5 1574.8,2194.5" fill="#0E9FDC"/>
<polygon points="1622.3,2171.0 1638.8,2201.0 1605.8,2201.0" fill="#0E9FDC"/>
<polygon points="1653.3,2175.0 1669.8,2205.0 1636.8,2205.0" fill="#0E9FDC"/>
<polygon points="1684.3,2180.3 1700.8,2210.3 1667.8,2210.3" fill="#0E9FDC"/>
<polygon points="1715.3,2177.7 1731.8,2207.7 1698.8,2207.7" fill="#0E9FDC"/>
<polygon points="1746.3,2184.3 1762.8,2214.3 1729.8,2214.3" fill="#0E9FDC"/>
<polygon points="1777.3,2196.0 1793.8,2226.0 1760.8,2226.0" fill="#0E9FDC"/>
<polygon points="1808.3,2201.3 1824.8,2231.3 1791.8,2231.3" fill="#0E9FDC"/>
<polygon points="1839.3,2205.6 1855.8,2235.6 1822.8,2235.6" fill="#0E9FDC"/>
<polygon points="1870.3,2211.3 1886.8,2241.3 1853.8,2241.3" fill="#0E9FDC"/>
<polygon points="1901.3,2216.7 1917.8,2246.7 1884.8,2246.7" fill="#0E9FDC"/>
<polygon points="1932.3,2208.6 1948.8,2238.6 1915.8,2238.6" fill="#0E9FDC"/>
<polygon points="1963.3,2230.1 1979.8,2260.1 1946.8,2260.1" fill="#0E9FDC"/>
<polygon points="1994.3,2242.3 2010.8,2272.3 1977.8,2272.3" fill="#0E9FDC"/>
<polygon points="2025.3,2258.4 2041.8,2288.4 2008.8,2288.4" fill="#0E9FDC"/>
<polygon points="2056.3,2251.7 2072.8,2281.7 2039.8,2281.7" fill="#0E9FDC"/>
<polygon points="2087.3,2243.6 2103.8,2273.6 2070.8,2273.6" fill="#0E9FDC"/>
<polygon points="2118.3,2258.4 2134.8,2288.4 2101.8,2288.4" fill="#0E9FDC"/>
<polygon points="2149.3,2246.3 2165.8,2276.3 2132.8,2276.3" fill="#0E9FDC"/>
<polygon points="2180.3,2269.2 2196.8,2299.2 2163.8,2299.2" fill="#0E9FDC"/>
<polygon points="2211.3,2261.1 2227.8,2291.1 2194.8,2291.1" fill="#0E9FDC"/>
</g>
<line x1="315.8" y1="93.5" x2="467.2" y2="93.5" stroke="#A8DAEC" stroke-width="9"/>
<rect x="376.1" y="81.0" width="25.0" height="25.0" fill="#A8DAEC"/>
<text x="479.0" y="115.0" font-size="62" text-anchor="start" letter-spacing="0.7">0.05 wt.% DP-1</text>
<line x1="965.7" y1="93.3" x2="1119.4" y2="93.3" stroke="#57BEE6" stroke-width="9"/>
<circle cx="1042.0" cy="93.3" r="12.5" fill="#57BEE6"/>
<text x="1130.2" y="114.5" font-size="62" text-anchor="start" letter-spacing="0.7">0.07 wt.% DP-1</text>
<line x1="1618.0" y1="94.0" x2="1773.0" y2="94.0" stroke="#2AAEEA" stroke-width="9"/>
<polygon points="1695.4,74.0 1711.9,104.0 1678.9,104.0" fill="#2AAEEA"/>
<text x="1781.3" y="114.5" font-size="62" text-anchor="start" letter-spacing="0.7">0.10 wt.% DP-1</text>
<line x1="360.5" y1="1907.5" x2="516.0" y2="1907.5" stroke="#A8DAEC" stroke-width="9"/>
<rect x="425.9" y="1895.0" width="25.0" height="25.0" fill="#A8DAEC"/>
<text x="527.1" y="1928.5" font-size="65" text-anchor="start" >0.05 wt.% DP-1</text>
<line x1="996.0" y1="1908.0" x2="1149.0" y2="1908.0" stroke="#57BEE6" stroke-width="9"/>
<circle cx="1071.0" cy="1908.0" r="12.5" fill="#57BEE6"/>
<text x="1161.1" y="1928.5" font-size="65" text-anchor="start" >0.07 wt.% DP-1</text>
<line x1="1624.8" y1="1908.0" x2="1782.3" y2="1908.0" stroke="#0E9FDC" stroke-width="9"/>
<polygon points="1704.6,1888.0 1721.1,1918.0 1688.1,1918.0" fill="#0E9FDC"/>
<text x="1793.3" y="1928.5" font-size="65" text-anchor="start" >0.10 wt.% DP-1</text>
<line x1="352.8" y1="1561.5" x2="352.8" y2="1545.5" stroke="#000" stroke-width="6.4"/>
<line x1="390.9" y1="1561.5" x2="390.9" y2="1545.5" stroke="#000" stroke-width="6.4"/>
<line x1="424.0" y1="1561.5" x2="424.0" y2="1545.5" stroke="#000" stroke-width="6.4"/>
<line x1="453.2" y1="1561.5" x2="453.2" y2="1545.5" stroke="#000" stroke-width="6.4"/>
<line x1="479.3" y1="1561.5" x2="479.3" y2="1532.5" stroke="#000" stroke-width="6.4"/>
<line x1="651.0" y1="1561.5" x2="651.0" y2="1545.5" stroke="#000" stroke-width="6.4"/>
<line x1="751.4" y1="1561.5" x2="751.4" y2="1545.5" stroke="#000" stroke-width="6.4"/>
<line x1="822.7" y1="1561.5" x2="822.7" y2="1545.5" stroke="#000" stroke-width="6.4"/>
<line x1="878.0" y1="1561.5" x2="878.0" y2="1545.5" stroke="#000" stroke-width="6.4"/>
<line x1="923.2" y1="1561.5" x2="923.2" y2="1545.5" stroke="#000" stroke-width="6.4"/>
<line x1="961.3" y1="1561.5" x2="961.3" y2="1545.5" stroke="#000" stroke-width="6.4"/>
<line x1="994.4" y1="1561.5" x2="994.4" y2="1545.5" stroke="#000" stroke-width="6.4"/>
<line x1="1023.6" y1="1561.5" x2="1023.6" y2="1545.5" stroke="#000" stroke-width="6.4"/>
<line x1="1049.7" y1="1561.5" x2="1049.7" y2="1532.5" stroke="#000" stroke-width="6.4"/>
<line x1="1221.4" y1="1561.5" x2="1221.4" y2="1545.5" stroke="#000" stroke-width="6.4"/>
<line x1="1321.8" y1="1561.5" x2="1321.8" y2="1545.5" stroke="#000" stroke-width="6.4"/>
<line x1="1393.1" y1="1561.5" x2="1393.1" y2="1545.5" stroke="#000" stroke-width="6.4"/>
<line x1="1448.4" y1="1561.5" x2="1448.4" y2="1545.5" stroke="#000" stroke-width="6.4"/>
<line x1="1493.6" y1="1561.5" x2="1493.6" y2="1545.5" stroke="#000" stroke-width="6.4"/>
<line x1="1531.7" y1="1561.5" x2="1531.7" y2="1545.5" stroke="#000" stroke-width="6.4"/>
<line x1="1564.8" y1="1561.5" x2="1564.8" y2="1545.5" stroke="#000" stroke-width="6.4"/>
<line x1="1594.0" y1="1561.5" x2="1594.0" y2="1545.5" stroke="#000" stroke-width="6.4"/>
<line x1="1620.1" y1="1561.5" x2="1620.1" y2="1532.5" stroke="#000" stroke-width="6.4"/>
<line x1="1791.8" y1="1561.5" x2="1791.8" y2="1545.5" stroke="#000" stroke-width="6.4"/>
<line x1="1892.2" y1="1561.5" x2="1892.2" y2="1545.5" stroke="#000" stroke-width="6.4"/>
<line x1="1963.5" y1="1561.5" x2="1963.5" y2="1545.5" stroke="#000" stroke-width="6.4"/>
<line x1="2018.8" y1="1561.5" x2="2018.8" y2="1545.5" stroke="#000" stroke-width="6.4"/>
<line x1="2064.0" y1="1561.5" x2="2064.0" y2="1545.5" stroke="#000" stroke-width="6.4"/>
<line x1="2102.1" y1="1561.5" x2="2102.1" y2="1545.5" stroke="#000" stroke-width="6.4"/>
<line x1="2135.2" y1="1561.5" x2="2135.2" y2="1545.5" stroke="#000" stroke-width="6.4"/>
<line x1="2164.4" y1="1561.5" x2="2164.4" y2="1545.5" stroke="#000" stroke-width="6.4"/>
<line x1="2190.5" y1="1561.5" x2="2190.5" y2="1532.5" stroke="#000" stroke-width="6.4"/>
<line x1="306.3" y1="1419.9" x2="322.3" y2="1419.9" stroke="#000" stroke-width="6.4"/>
<line x1="306.3" y1="1337.0" x2="322.3" y2="1337.0" stroke="#000" stroke-width="6.4"/>
<line x1="306.3" y1="1278.2" x2="322.3" y2="1278.2" stroke="#000" stroke-width="6.4"/>
<line x1="306.3" y1="1232.6" x2="322.3" y2="1232.6" stroke="#000" stroke-width="6.4"/>
<line x1="306.3" y1="1195.4" x2="322.3" y2="1195.4" stroke="#000" stroke-width="6.4"/>
<line x1="306.3" y1="1163.9" x2="322.3" y2="1163.9" stroke="#000" stroke-width="6.4"/>
<line x1="306.3" y1="1136.6" x2="322.3" y2="1136.6" stroke="#000" stroke-width="6.4"/>
<line x1="306.3" y1="1112.5" x2="322.3" y2="1112.5" stroke="#000" stroke-width="6.4"/>
<line x1="306.3" y1="1091.0" x2="335.3" y2="1091.0" stroke="#000" stroke-width="6.4"/>
<line x1="2213.2" y1="1091.0" x2="2184.2" y2="1091.0" stroke="#000" stroke-width="6.4"/>
<line x1="306.3" y1="949.4" x2="322.3" y2="949.4" stroke="#000" stroke-width="6.4"/>
<line x1="306.3" y1="866.5" x2="322.3" y2="866.5" stroke="#000" stroke-width="6.4"/>
<line x1="306.3" y1="807.7" x2="322.3" y2="807.7" stroke="#000" stroke-width="6.4"/>
<line x1="306.3" y1="762.1" x2="322.3" y2="762.1" stroke="#000" stroke-width="6.4"/>
<line x1="306.3" y1="724.9" x2="322.3" y2="724.9" stroke="#000" stroke-width="6.4"/>
<line x1="306.3" y1="693.4" x2="322.3" y2="693.4" stroke="#000" stroke-width="6.4"/>
<line x1="306.3" y1="666.1" x2="322.3" y2="666.1" stroke="#000" stroke-width="6.4"/>
<line x1="306.3" y1="642.0" x2="322.3" y2="642.0" stroke="#000" stroke-width="6.4"/>
<line x1="306.3" y1="620.5" x2="335.3" y2="620.5" stroke="#000" stroke-width="6.4"/>
<line x1="2213.2" y1="620.5" x2="2184.2" y2="620.5" stroke="#000" stroke-width="6.4"/>
<line x1="306.3" y1="478.9" x2="322.3" y2="478.9" stroke="#000" stroke-width="6.4"/>
<line x1="306.3" y1="396.0" x2="322.3" y2="396.0" stroke="#000" stroke-width="6.4"/>
<line x1="306.3" y1="337.2" x2="322.3" y2="337.2" stroke="#000" stroke-width="6.4"/>
<line x1="306.3" y1="291.6" x2="322.3" y2="291.6" stroke="#000" stroke-width="6.4"/>
<line x1="306.3" y1="254.4" x2="322.3" y2="254.4" stroke="#000" stroke-width="6.4"/>
<line x1="306.3" y1="222.9" x2="322.3" y2="222.9" stroke="#000" stroke-width="6.4"/>
<line x1="306.3" y1="195.6" x2="322.3" y2="195.6" stroke="#000" stroke-width="6.4"/>
<line x1="306.3" y1="171.5" x2="322.3" y2="171.5" stroke="#000" stroke-width="6.4"/>
<line x1="306.3" y1="150.0" x2="335.3" y2="150.0" stroke="#000" stroke-width="6.4"/>
<line x1="2213.2" y1="150.0" x2="2184.2" y2="150.0" stroke="#000" stroke-width="6.4"/>
<rect x="306.3" y="29.0" width="1906.9" height="1532.5" fill="none" stroke="#000" stroke-width="8"/>
<line x1="386.2" y1="3369.5" x2="386.2" y2="3353.5" stroke="#000" stroke-width="6.4"/>
<line x1="424.1" y1="3369.5" x2="424.1" y2="3353.5" stroke="#000" stroke-width="6.4"/>
<line x1="457.0" y1="3369.5" x2="457.0" y2="3353.5" stroke="#000" stroke-width="6.4"/>
<line x1="486.0" y1="3369.5" x2="486.0" y2="3353.5" stroke="#000" stroke-width="6.4"/>
<line x1="511.9" y1="3369.5" x2="511.9" y2="3340.5" stroke="#000" stroke-width="6.4"/>
<line x1="682.5" y1="3369.5" x2="682.5" y2="3353.5" stroke="#000" stroke-width="6.4"/>
<line x1="782.2" y1="3369.5" x2="782.2" y2="3353.5" stroke="#000" stroke-width="6.4"/>
<line x1="853.0" y1="3369.5" x2="853.0" y2="3353.5" stroke="#000" stroke-width="6.4"/>
<line x1="907.9" y1="3369.5" x2="907.9" y2="3353.5" stroke="#000" stroke-width="6.4"/>
<line x1="952.8" y1="3369.5" x2="952.8" y2="3353.5" stroke="#000" stroke-width="6.4"/>
<line x1="990.7" y1="3369.5" x2="990.7" y2="3353.5" stroke="#000" stroke-width="6.4"/>
<line x1="1023.6" y1="3369.5" x2="1023.6" y2="3353.5" stroke="#000" stroke-width="6.4"/>
<line x1="1052.6" y1="3369.5" x2="1052.6" y2="3353.5" stroke="#000" stroke-width="6.4"/>
<line x1="1078.5" y1="3369.5" x2="1078.5" y2="3340.5" stroke="#000" stroke-width="6.4"/>
<line x1="1249.1" y1="3369.5" x2="1249.1" y2="3353.5" stroke="#000" stroke-width="6.4"/>
<line x1="1348.8" y1="3369.5" x2="1348.8" y2="3353.5" stroke="#000" stroke-width="6.4"/>
<line x1="1419.6" y1="3369.5" x2="1419.6" y2="3353.5" stroke="#000" stroke-width="6.4"/>
<line x1="1474.5" y1="3369.5" x2="1474.5" y2="3353.5" stroke="#000" stroke-width="6.4"/>
<line x1="1519.4" y1="3369.5" x2="1519.4" y2="3353.5" stroke="#000" stroke-width="6.4"/>
<line x1="1557.3" y1="3369.5" x2="1557.3" y2="3353.5" stroke="#000" stroke-width="6.4"/>
<line x1="1590.2" y1="3369.5" x2="1590.2" y2="3353.5" stroke="#000" stroke-width="6.4"/>
<line x1="1619.2" y1="3369.5" x2="1619.2" y2="3353.5" stroke="#000" stroke-width="6.4"/>
<line x1="1645.1" y1="3369.5" x2="1645.1" y2="3340.5" stroke="#000" stroke-width="6.4"/>
<line x1="1815.7" y1="3369.5" x2="1815.7" y2="3353.5" stroke="#000" stroke-width="6.4"/>
<line x1="1915.4" y1="3369.5" x2="1915.4" y2="3353.5" stroke="#000" stroke-width="6.4"/>
<line x1="1986.2" y1="3369.5" x2="1986.2" y2="3353.5" stroke="#000" stroke-width="6.4"/>
<line x1="2041.1" y1="3369.5" x2="2041.1" y2="3353.5" stroke="#000" stroke-width="6.4"/>
<line x1="2086.0" y1="3369.5" x2="2086.0" y2="3353.5" stroke="#000" stroke-width="6.4"/>
<line x1="2123.9" y1="3369.5" x2="2123.9" y2="3353.5" stroke="#000" stroke-width="6.4"/>
<line x1="2156.8" y1="3369.5" x2="2156.8" y2="3353.5" stroke="#000" stroke-width="6.4"/>
<line x1="2185.8" y1="3369.5" x2="2185.8" y2="3353.5" stroke="#000" stroke-width="6.4"/>
<line x1="2211.7" y1="3369.5" x2="2211.7" y2="3340.5" stroke="#000" stroke-width="6.4"/>
<line x1="339.5" y1="3293.8" x2="355.5" y2="3293.8" stroke="#000" stroke-width="6.4"/>
<line x1="339.5" y1="3250.4" x2="355.5" y2="3250.4" stroke="#000" stroke-width="6.4"/>
<line x1="339.5" y1="3219.7" x2="355.5" y2="3219.7" stroke="#000" stroke-width="6.4"/>
<line x1="339.5" y1="3195.8" x2="355.5" y2="3195.8" stroke="#000" stroke-width="6.4"/>
<line x1="339.5" y1="3176.3" x2="355.5" y2="3176.3" stroke="#000" stroke-width="6.4"/>
<line x1="339.5" y1="3159.8" x2="355.5" y2="3159.8" stroke="#000" stroke-width="6.4"/>
<line x1="339.5" y1="3145.5" x2="355.5" y2="3145.5" stroke="#000" stroke-width="6.4"/>
<line x1="339.5" y1="3132.9" x2="355.5" y2="3132.9" stroke="#000" stroke-width="6.4"/>
<line x1="339.5" y1="3121.6" x2="368.5" y2="3121.6" stroke="#000" stroke-width="6.4"/>
<line x1="2233.4" y1="3121.6" x2="2204.4" y2="3121.6" stroke="#000" stroke-width="6.4"/>
<line x1="339.5" y1="3047.4" x2="355.5" y2="3047.4" stroke="#000" stroke-width="6.4"/>
<line x1="339.5" y1="3004.0" x2="355.5" y2="3004.0" stroke="#000" stroke-width="6.4"/>
<line x1="339.5" y1="2973.3" x2="355.5" y2="2973.3" stroke="#000" stroke-width="6.4"/>
<line x1="339.5" y1="2949.4" x2="355.5" y2="2949.4" stroke="#000" stroke-width="6.4"/>
<line x1="339.5" y1="2929.9" x2="355.5" y2="2929.9" stroke="#000" stroke-width="6.4"/>
<line x1="339.5" y1="2913.4" x2="355.5" y2="2913.4" stroke="#000" stroke-width="6.4"/>
<line x1="339.5" y1="2899.1" x2="355.5" y2="2899.1" stroke="#000" stroke-width="6.4"/>
<line x1="339.5" y1="2886.5" x2="355.5" y2="2886.5" stroke="#000" stroke-width="6.4"/>
<line x1="339.5" y1="2875.2" x2="368.5" y2="2875.2" stroke="#000" stroke-width="6.4"/>
<line x1="2233.4" y1="2875.2" x2="2204.4" y2="2875.2" stroke="#000" stroke-width="6.4"/>
<line x1="339.5" y1="2801.0" x2="355.5" y2="2801.0" stroke="#000" stroke-width="6.4"/>
<line x1="339.5" y1="2757.6" x2="355.5" y2="2757.6" stroke="#000" stroke-width="6.4"/>
<line x1="339.5" y1="2726.9" x2="355.5" y2="2726.9" stroke="#000" stroke-width="6.4"/>
<line x1="339.5" y1="2703.0" x2="355.5" y2="2703.0" stroke="#000" stroke-width="6.4"/>
<line x1="339.5" y1="2683.5" x2="355.5" y2="2683.5" stroke="#000" stroke-width="6.4"/>
<line x1="339.5" y1="2667.0" x2="355.5" y2="2667.0" stroke="#000" stroke-width="6.4"/>
<line x1="339.5" y1="2652.7" x2="355.5" y2="2652.7" stroke="#000" stroke-width="6.4"/>
<line x1="339.5" y1="2640.1" x2="355.5" y2="2640.1" stroke="#000" stroke-width="6.4"/>
<line x1="339.5" y1="2628.8" x2="368.5" y2="2628.8" stroke="#000" stroke-width="6.4"/>
<line x1="2233.4" y1="2628.8" x2="2204.4" y2="2628.8" stroke="#000" stroke-width="6.4"/>
<line x1="339.5" y1="2554.6" x2="355.5" y2="2554.6" stroke="#000" stroke-width="6.4"/>
<line x1="339.5" y1="2511.2" x2="355.5" y2="2511.2" stroke="#000" stroke-width="6.4"/>
<line x1="339.5" y1="2480.5" x2="355.5" y2="2480.5" stroke="#000" stroke-width="6.4"/>
<line x1="339.5" y1="2456.6" x2="355.5" y2="2456.6" stroke="#000" stroke-width="6.4"/>
<line x1="339.5" y1="2437.1" x2="355.5" y2="2437.1" stroke="#000" stroke-width="6.4"/>
<line x1="339.5" y1="2420.6" x2="355.5" y2="2420.6" stroke="#000" stroke-width="6.4"/>
<line x1="339.5" y1="2406.3" x2="355.5" y2="2406.3" stroke="#000" stroke-width="6.4"/>
<line x1="339.5" y1="2393.7" x2="355.5" y2="2393.7" stroke="#000" stroke-width="6.4"/>
<line x1="339.5" y1="2382.4" x2="368.5" y2="2382.4" stroke="#000" stroke-width="6.4"/>
<line x1="2233.4" y1="2382.4" x2="2204.4" y2="2382.4" stroke="#000" stroke-width="6.4"/>
<line x1="339.5" y1="2308.2" x2="355.5" y2="2308.2" stroke="#000" stroke-width="6.4"/>
<line x1="339.5" y1="2264.8" x2="355.5" y2="2264.8" stroke="#000" stroke-width="6.4"/>
<line x1="339.5" y1="2234.1" x2="355.5" y2="2234.1" stroke="#000" stroke-width="6.4"/>
<line x1="339.5" y1="2210.2" x2="355.5" y2="2210.2" stroke="#000" stroke-width="6.4"/>
<line x1="339.5" y1="2190.7" x2="355.5" y2="2190.7" stroke="#000" stroke-width="6.4"/>
<line x1="339.5" y1="2174.2" x2="355.5" y2="2174.2" stroke="#000" stroke-width="6.4"/>
<line x1="339.5" y1="2159.9" x2="355.5" y2="2159.9" stroke="#000" stroke-width="6.4"/>
<line x1="339.5" y1="2147.3" x2="355.5" y2="2147.3" stroke="#000" stroke-width="6.4"/>
<line x1="339.5" y1="2136.0" x2="368.5" y2="2136.0" stroke="#000" stroke-width="6.4"/>
<line x1="2233.4" y1="2136.0" x2="2204.4" y2="2136.0" stroke="#000" stroke-width="6.4"/>
<line x1="339.5" y1="2061.8" x2="355.5" y2="2061.8" stroke="#000" stroke-width="6.4"/>
<line x1="339.5" y1="2018.4" x2="355.5" y2="2018.4" stroke="#000" stroke-width="6.4"/>
<line x1="339.5" y1="1987.7" x2="355.5" y2="1987.7" stroke="#000" stroke-width="6.4"/>
<line x1="339.5" y1="1963.8" x2="355.5" y2="1963.8" stroke="#000" stroke-width="6.4"/>
<line x1="339.5" y1="1944.3" x2="355.5" y2="1944.3" stroke="#000" stroke-width="6.4"/>
<line x1="339.5" y1="1927.8" x2="355.5" y2="1927.8" stroke="#000" stroke-width="6.4"/>
<line x1="339.5" y1="1913.5" x2="355.5" y2="1913.5" stroke="#000" stroke-width="6.4"/>
<line x1="339.5" y1="1900.9" x2="355.5" y2="1900.9" stroke="#000" stroke-width="6.4"/>
<line x1="339.5" y1="1889.6" x2="368.5" y2="1889.6" stroke="#000" stroke-width="6.4"/>
<line x1="2233.4" y1="1889.6" x2="2204.4" y2="1889.6" stroke="#000" stroke-width="6.4"/>
<rect x="339.5" y="1846.0" width="1893.9" height="1523.5" fill="none" stroke="#000" stroke-width="8"/>
<text x="155.4" y="178.0" font-size="86" text-anchor="start" >10</text>
<text x="245.3" y="145.0" font-size="57" text-anchor="start" >0</text>
<text x="136.2" y="650.0" font-size="86" text-anchor="start" >10</text>
<text x="225.4" y="617.0" font-size="57" text-anchor="start" >-1</text>
<text x="136.2" y="1121.5" font-size="86" text-anchor="start" >10</text>
<text x="225.4" y="1086.0" font-size="57" text-anchor="start" >-2</text>
<text x="134.1" y="1593.0" font-size="86" text-anchor="start" >10</text>
<text x="223.9" y="1558.0" font-size="57" text-anchor="start" >-3</text>
<text x="188.8" y="1921.0" font-size="86" text-anchor="start" >10</text>
<text x="278.4" y="1885.0" font-size="57" text-anchor="start" >1</text>
<text x="188.8" y="2166.5" font-size="86" text-anchor="start" >10</text>
<text x="280.3" y="2130.5" font-size="57" text-anchor="start" >0</text>
<text x="170.3" y="2413.4" font-size="86" text-anchor="start" >10</text>
<text x="259.4" y="2377.4" font-size="57" text-anchor="start" >-1</text>
<text x="170.3" y="2659.8" font-size="86" text-anchor="start" >10</text>
<text x="259.4" y="2623.8" font-size="57" text-anchor="start" >-2</text>
<text x="170.3" y="2906.2" font-size="86" text-anchor="start" >10</text>
<text x="259.4" y="2870.2" font-size="57" text-anchor="start" >-3</text>
<text x="170.3" y="3152.6" font-size="86" text-anchor="start" >10</text>
<text x="259.4" y="3116.6" font-size="57" text-anchor="start" >-4</text>
<text x="170.3" y="3399.0" font-size="86" text-anchor="start" >10</text>
<text x="259.4" y="3363.0" font-size="57" text-anchor="start" >-5</text>
<text x="423.2" y="1663.0" font-size="86" text-anchor="start" >0.1</text>
<text x="1022.9" y="1662.0" font-size="86" text-anchor="start" >1</text>
<text x="1572.5" y="1662.0" font-size="86" text-anchor="start" >10</text>
<text x="2122.1" y="1662.0" font-size="86" text-anchor="start" >100</text>
<text x="456.4" y="3468.0" font-size="86" text-anchor="start" >0.1</text>
<text x="1051.9" y="3468.0" font-size="86" text-anchor="start" >1</text>
<text x="1598.8" y="3468.0" font-size="86" text-anchor="start" >10</text>
<text x="2144.1" y="3468.0" font-size="86" text-anchor="start" >100</text>
<text x="918.4" y="1771.0" font-size="94" text-anchor="start" >Shear stress (Pa)</text>
<text x="948.7" y="3582.0" font-size="94" text-anchor="start" >Shear stress (Pa)</text>
<text transform="translate(88.8,1269.4) rotate(-90)" font-size="94.6">Loss modulus G''(Pa)</text>
<text transform="translate(116.4,2985.2) rotate(-90)" font-size="92">Loss modulus G''(Pa)</text>
<text x="1996.5" y="1453.0" font-size="86" text-anchor="start" >(A)</text>
<text x="2018.6" y="3261.0" font-size="86" text-anchor="start" >(B)</text>
</svg></body></html>
